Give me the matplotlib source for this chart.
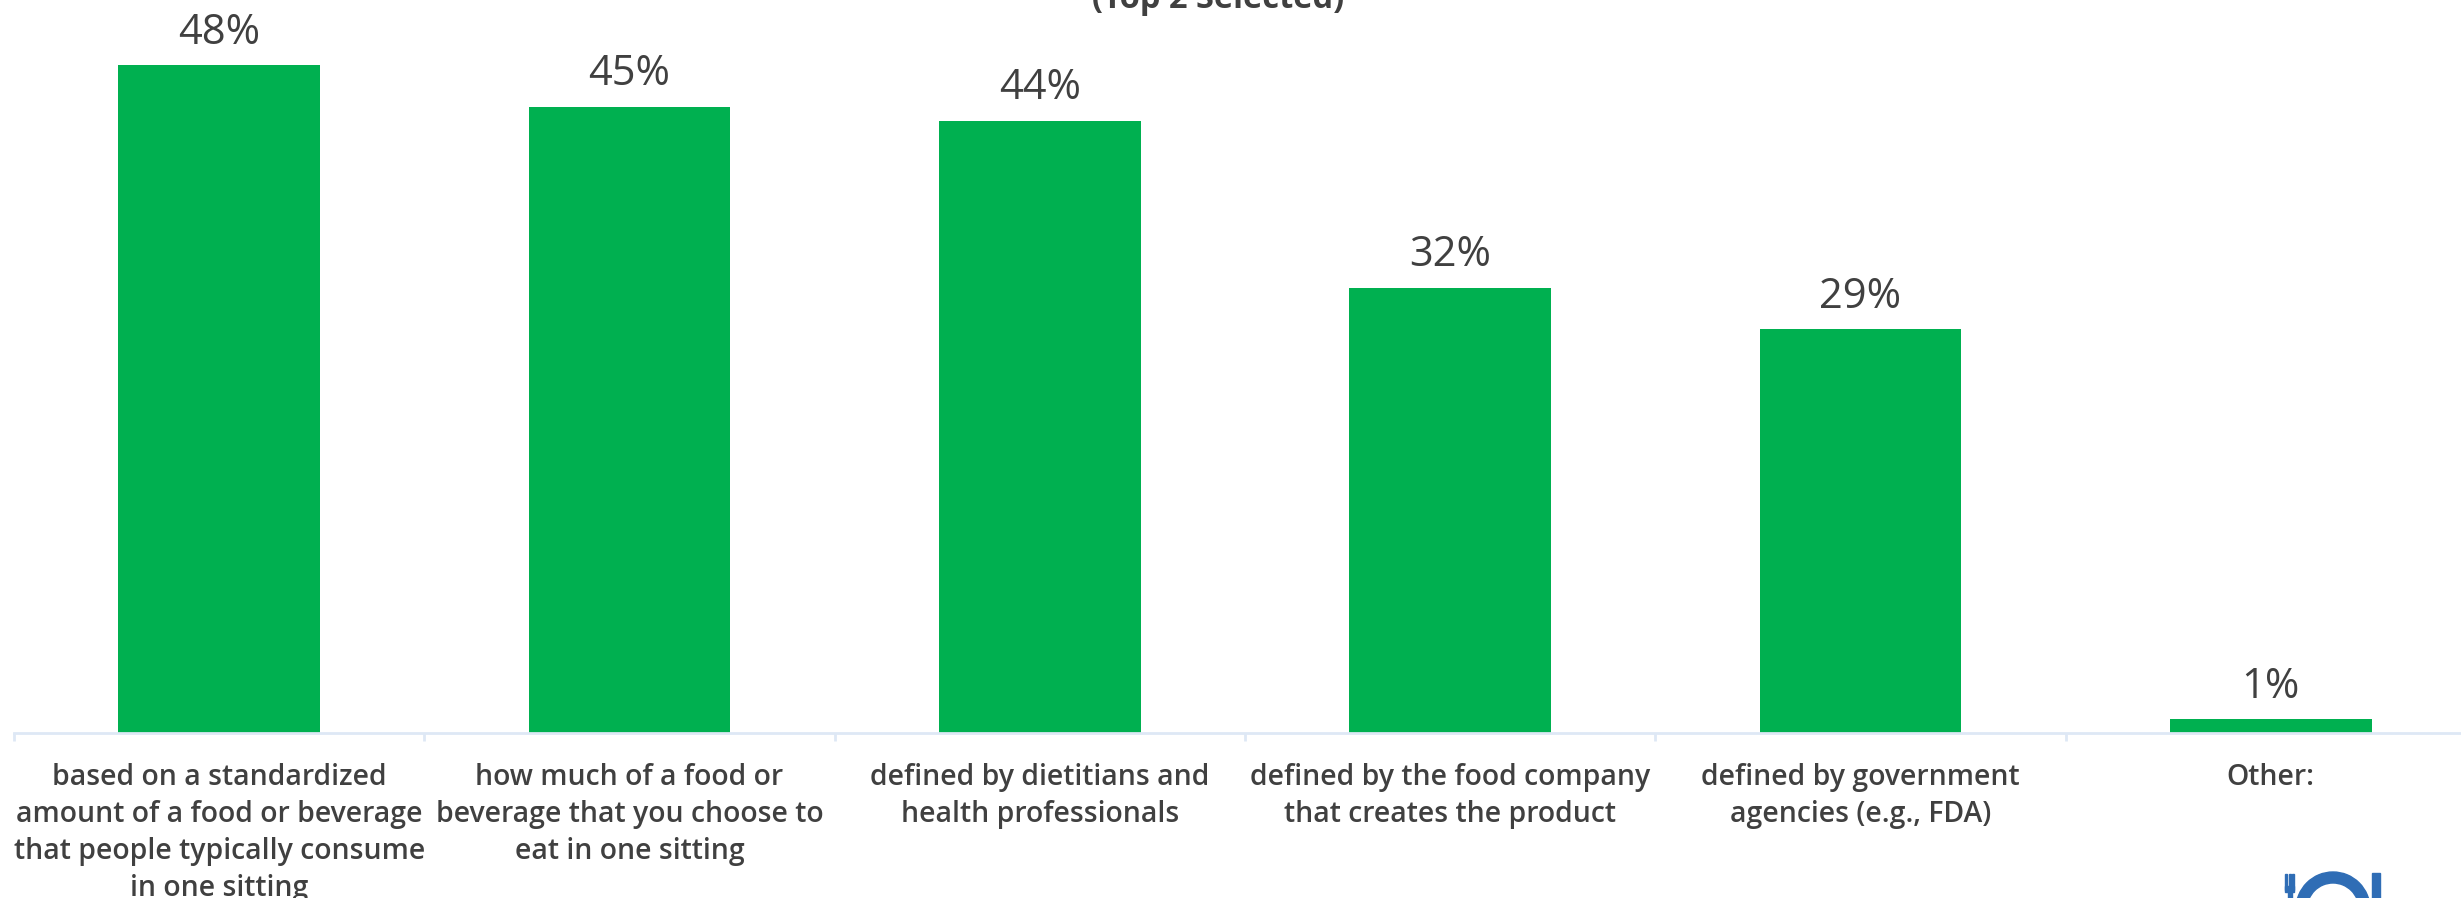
import matplotlib as mpl
mpl.rcParams['figure.dpi'] = 100
import numpy as np
import matplotlib.pyplot as plt
from matplotlib.patches import Rectangle, Wedge

W = 2461
H = 898

categories = [
    'based on a standardized\namount of a food or beverage\nthat people typically consume\nin one sitting',
    'how much of a food or\nbeverage that you choose to\neat in one sitting',
    'defined by dietitians and\nhealth professionals',
    'defined by the food company\nthat creates the product',
    'defined by government\nagencies (e.g., FDA)',
    'Other:',
]
values = [48, 45, 44, 32, 29, 1]

GREEN = '#00b050'
TEXT = '#404040'
AXIS = '#dee8f5'
LOGO = '#2f6db5'

plt.rcParams['font.family'] = ['Open Sans', 'DejaVu Sans']

fig = plt.figure(figsize=(W / 100, H / 100), facecolor='white')

# axes run past the right edge, the last category slot is cut off
left = 14
right = 2476
base = 733
px_per_pct = 13.92
ax = fig.add_axes([left / W, 1 - base / H, (right - left) / W, base / H])
x = np.arange(len(values))
ax.bar(x, values, width=0.492, color=GREEN)
ax.set_xlim(-0.5, 5.5)
ax.set_ylim(0, base / px_per_pct)

for xi, v in zip(x, values):
    ax.annotate('{}%'.format(v), (xi, v), xytext=(0, 8), textcoords='offset points',
                ha='center', va='bottom', fontsize=30, color=TEXT, annotation_clip=False)

ax.set_yticks([])
for side in ['top', 'left', 'right']:
    ax.spines[side].set_visible(False)
ax.spines['bottom'].set_color(AXIS)
ax.spines['bottom'].set_linewidth(2)

ax.set_xticks(x)
ax.set_xticklabels(categories, fontsize=20.4, color=TEXT, fontweight='semibold',
                   linespacing=1.37)
ax.tick_params(axis='x', which='major', length=0, pad=21.5)
ax.set_xticks(np.arange(-0.5, 6), minor=True)
ax.tick_params(axis='x', which='minor', length=6, width=2, color=AXIS)

# subtitle and logo sit partly outside the canvas, placed in pixels
over = fig.add_axes([0, 0, 1, 1], facecolor='none')
over.set_xlim(0, W)
over.set_ylim(H, 0)
over.axis('off')
over.text(1218, 8, '(Top 2 Selected)', ha='center', va='baseline', fontsize=23.5,
          fontweight='bold', color=TEXT, clip_on=False)

over.add_patch(Wedge((2333, 909), 37, 0, 360, width=11, color=LOGO))
over.add_patch(Rectangle((2372, 873), 8, 30, color=LOGO))
for fx in [2285, 2288.5, 2292]:
    over.add_patch(Rectangle((fx, 874), 2, 16, color=LOGO))
over.add_patch(Rectangle((2285, 886), 9, 6, color=LOGO))
over.add_patch(Rectangle((2287.5, 890), 4, 10, color=LOGO))

fig.savefig('out.png', dpi=100)
